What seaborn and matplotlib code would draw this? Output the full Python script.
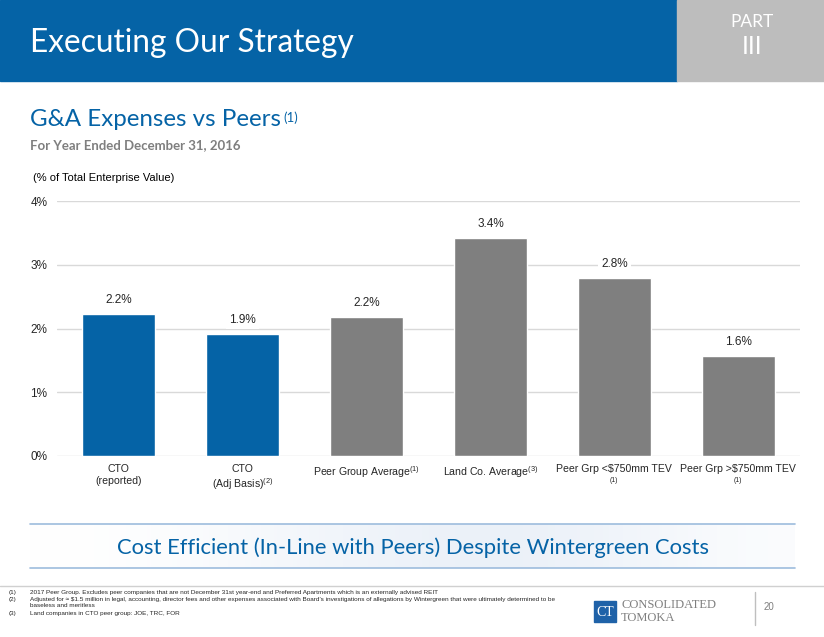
import matplotlib.pyplot as plt
import seaborn as sns
import pandas as pd
import numpy as np
from matplotlib import font_manager
from matplotlib.colors import LinearSegmentedColormap
from matplotlib.patches import Rectangle
from matplotlib.lines import Line2D
from matplotlib.transforms import blended_transform_factory

# data
categories = ["CTO\n(reported)", "CTO\n(Adj Basis)$^{\\mathrm{(2)}}$",
              "Peer Group Average$^{\\mathrm{(1)}}$", "Land Co. Average$^{\\mathrm{(3)}}$",
              "Peer Grp <\\$750mm TEV", "Peer Grp >\\$750mm TEV"]
tick_notes = ["", "", "", "", "(1)", "(1)"]
values = [2.23, 1.91, 2.18, 3.42, 2.79, 1.57]
value_labels = ["2.2%", "1.9%", "2.2%", "3.4%", "2.8%", "1.6%"]
bar_colors = ["#0563A6", "#0563A6", "#7F7F7F", "#7F7F7F", "#7F7F7F", "#7F7F7F"]
y_ticks = [0, 1, 2, 3, 4]
footnotes = [
    ("(1)", "2017 Peer Group. Excludes peer companies that are not December 31st year-end and Preferred Apartments which is an externally advised REIT"),
    ("(2)", "Adjusted for \u2248 $1.5 million in legal, accounting, director fees and other expenses associated with Board\u2019s investigations of allegations by Wintergreen that were ultimately determined to be\nbaseless and meritless"),
    ("(3)", "Land companies in CTO peer group: JOE, TRC, FOR"),
]

names = {f.name for f in font_manager.fontManager.ttflist}
if "Liberation Sans Narrow" in names:
    NARROW, tick_size, fn_size = "Liberation Sans Narrow", 9, 5.2
else:
    NARROW, tick_size, fn_size = "Liberation Sans", 7.6, 4.6

sns.set_theme(style="white")
plt.rcParams['font.family'] = ['Liberation Sans', 'DejaVu Sans']
plt.rcParams['mathtext.fontset'] = 'custom'
plt.rcParams['mathtext.rm'] = NARROW
plt.rcParams['mathtext.it'] = NARROW + ':italic'

BLUE = "#0563A6"
fig = plt.figure(figsize=(8.24, 6.37), dpi=100)
W, H = 824, 637


def fx(px):
    return px / W


def fy(py):
    return 1 - py / H


# header band
fig.patches.append(Rectangle((0, fy(81)), fx(677), 81 / H, transform=fig.transFigure,
                             color=BLUE, zorder=0))
fig.patches.append(Rectangle((fx(677), fy(81)), 1 - fx(677), 81 / H, transform=fig.transFigure,
                             color="#BDBDBD", zorder=0))
fig.text(fx(30), fy(43), "Executing Our Strategy", color="white", fontsize=22.8,
         family="Lato", va="center", ha="left")
fig.text(fx(752), fy(22), "PART", color="white", fontsize=12.5, family="Lato",
         ha="center", va="center")
fig.text(fx(752), fy(47), "III", color="white", fontsize=18, family="Lato",
         ha="center", va="center")

# subtitles
sub = fig.text(fx(30), fy(120), "G&A Expenses vs Peers", color=BLUE, fontsize=17.4,
               family="Lato", va="center", ha="left")
fig.text(fx(30), fy(145), "For Year Ended December 31, 2016", color="#7F7F7F", fontsize=9.5,
         family="Lato", weight="bold", va="center", ha="left")
fig.text(fx(33), fy(178), "(% of Total Enterprise Value)", color="black", fontsize=8,
         va="center", ha="left")

# chart
ax = fig.add_axes([fx(57), fy(456), fx(800) - fx(57), (456 - 201) / H])
df = pd.DataFrame({"cat": categories, "val": values})
sns.barplot(data=df, x="cat", y="val", hue="cat", palette=bar_colors, legend=False,
            width=0.59, ax=ax, zorder=2, saturation=1)
ax.set_ylim(0, 4)
ax.set_yticks(y_ticks)
ax.set_yticklabels([f"{t}%" for t in y_ticks], fontsize=8.5)
ax.yaxis.grid(True, color="#D9D9D9", linewidth=1, zorder=0)
ax.set_axisbelow(True)
for s in ax.spines.values():
    s.set_visible(False)
ax.tick_params(axis="y", length=0, pad=7)
ax.tick_params(axis="x", length=0, pad=6)
for lab in ax.get_xticklabels():
    lab.set_family(NARROW)
    lab.set_fontsize(tick_size)
    lab.set_linespacing(1.2)
ax.set_xlabel("")
ax.set_ylabel("")
for i, (v, lab) in enumerate(zip(values, value_labels)):
    ax.annotate(lab, (i, v), xytext=(0, 6), textcoords="offset points", ha="center",
                va="bottom", fontsize=8.5, zorder=3,
                bbox=dict(boxstyle="square,pad=0.25", fc="white", ec="none"))
trans = blended_transform_factory(ax.transData, ax.transAxes)
for i, note in enumerate(tick_notes):
    if note:
        ax.annotate(note, (i, 0), xycoords=trans, xytext=(0, -15), textcoords="offset points",
                    ha="center", va="top", fontsize=5, family=NARROW)

# message band
band = fig.add_axes([fx(30), fy(568), fx(795) - fx(30), (568 - 524) / H])
band.set_axis_off()
grad = np.array([[0.0, 0.3, 0.7, 1.0, 0.8, 0.2]])
band_cmap = LinearSegmentedColormap.from_list("band", ["#FFFFFF", "#EAF0F8"])
band.imshow(grad, aspect="auto", cmap=band_cmap, extent=[0, 1, 0, 1],
            interpolation="bicubic", vmin=0, vmax=1)
band.set_xlim(0, 1)
band.set_ylim(0, 1)
fig.lines.append(Line2D([fx(30), fx(795)], [fy(524), fy(524)], transform=fig.transFigure,
                        color="#9DBCDD", linewidth=1.2))
fig.lines.append(Line2D([fx(30), fx(795)], [fy(568), fy(568)], transform=fig.transFigure,
                        color="#9DBCDD", linewidth=1.2))
fig.text(fx(413), fy(548), "Cost Efficient (In-Line with Peers) Despite Wintergreen Costs",
         color=BLUE, fontsize=15.8, family="Lato", ha="center", va="center")

# footer
fig.lines.append(Line2D([0, 1], [fy(586), fy(586)], transform=fig.transFigure,
                        color="#D0D0D0", linewidth=1))
fn_y = [590, 597, 611]
for (num, txt), y in zip(footnotes, fn_y):
    fig.text(fx(9), fy(y), num, fontsize=fn_size, va="top", ha="left", family=NARROW)
    fig.text(fx(30), fy(y), txt, fontsize=fn_size, va="top", ha="left", linespacing=1.2,
             family=NARROW)

fig.patches.append(Rectangle((fx(594), fy(622)), fx(22), 21 / H, transform=fig.transFigure,
                             color="#1F62A8", zorder=2))
fig.text(fx(605), fy(613), "CT", color="white", fontsize=10, family="Liberation Serif",
         ha="center", va="center", zorder=3)
fig.text(fx(621), fy(605), "CONSOLIDATED", color="#7F7F7F", fontsize=9,
         family="Liberation Serif", ha="left", va="center")
fig.text(fx(621), fy(618), "TOMOKA", color="#7F7F7F", fontsize=9,
         family="Liberation Serif", ha="left", va="center")
fig.lines.append(Line2D([fx(755), fx(755)], [fy(592), fy(625)], transform=fig.transFigure,
                        color="#BFBFBF", linewidth=1))
fig.text(fx(769), fy(607), "20", color="#7F7F7F", fontsize=7, ha="center", va="center")

# superscript after subtitle
fig.canvas.draw()
bb = sub.get_window_extent()
fig.text(bb.x1 / W + fx(2), bb.y1 / H - 0.003, "(1)", color=BLUE, fontsize=9.5,
         family="Lato", va="top", ha="left")

fig.savefig("out.png", dpi=100)
